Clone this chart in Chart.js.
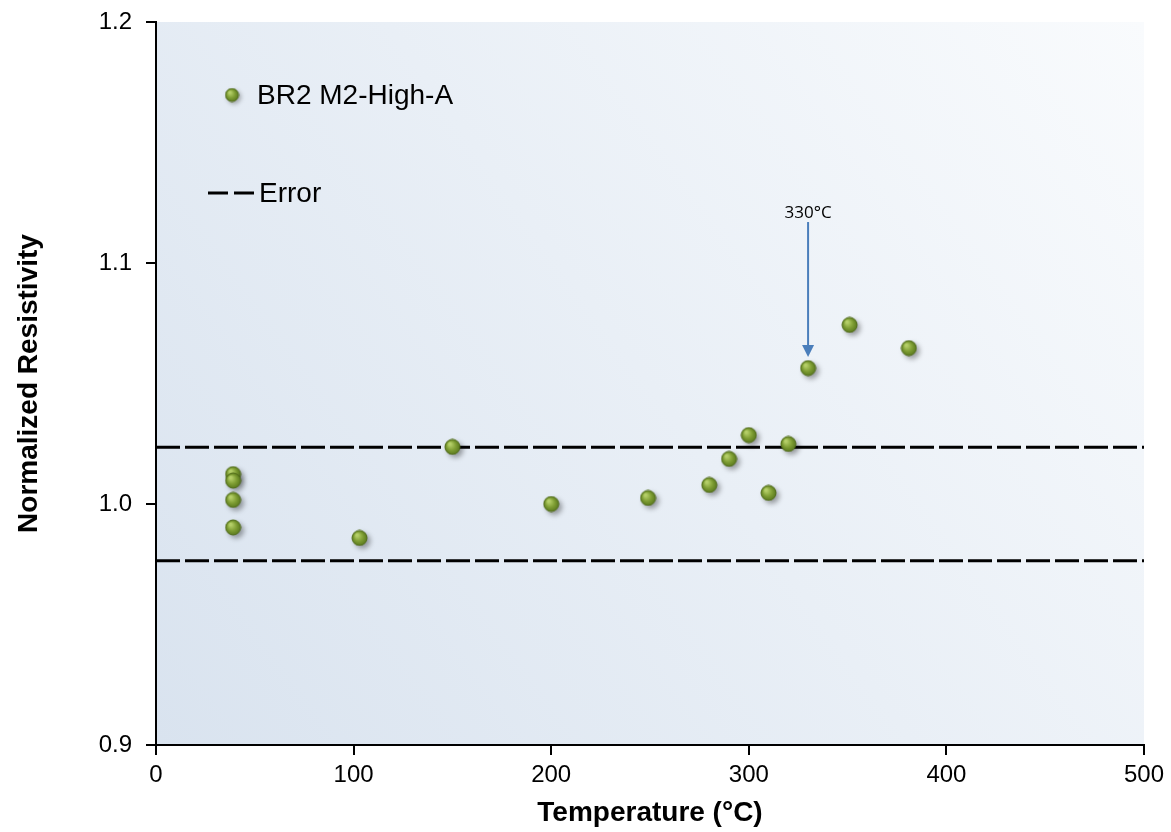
<!DOCTYPE html>
<html>
<head>
<meta charset="utf-8">
<script src="https://cdn.jsdelivr.net/npm/chart.js@4.4.1/dist/chart.umd.min.js"></script>
<style>
    html, body { margin: 0; padding: 0; background: #fff; }
    #wrap { width: 1171px; height: 832px; }
</style>
</head>
<body>
<div id="wrap"><canvas id="chart" width="1171" height="832"></canvas></div>
<script>
// ===============================
// DATA
// ===============================
const seriesName = "BR2 M2-High-A";
const tempValues = [39, 39, 39, 39, 103, 150, 200, 249, 280, 290, 300, 310, 320, 330, 351, 381];
const resValues = [1.0124, 1.0097, 1.0017, 0.9903, 0.9859, 1.0237, 1.0000, 1.0025, 1.0079, 1.0187, 1.0286, 1.0046, 1.0249, 1.0564, 1.0743, 1.0647];
const errorUpper = [1.0235, 1.0235];
const errorLower = [0.9765, 0.9765];
const errorX = [0, 500];
const xTicks = [0, 100, 200, 300, 400, 500];
const yTicks = [0.9, 1.0, 1.1, 1.2];
const arrowNote = { label: "330°C", x: 330, yFrom: 1.117, yTo: 1.061 };

// ===============================
// POINT MARKER (kleine groene bol)
// ===============================
function makeBall(r) {
    const c = document.createElement("canvas");
    c.width = r * 2 + 2;
    c.height = r * 2 + 2;
    const g = c.getContext("2d");
    const cx = r + 1, cy = r + 1;
    const grad = g.createRadialGradient(cx - r * 0.35, cy - r * 0.4, r * 0.15, cx, cy, r);
    grad.addColorStop(0, "#b5cf68");
    grad.addColorStop(0.55, "#7f9e34");
    grad.addColorStop(1, "#5b7a1e");
    g.beginPath();
    g.arc(cx, cy, r, 0, Math.PI * 2);
    g.fillStyle = grad;
    g.fill();
    g.lineWidth = 1;
    g.strokeStyle = "#4f6b18";
    g.stroke();
    return c;
}
const ball = makeBall(7.5);
const legendBall = makeBall(6.5);

// ===============================
// PLUGINS
// ===============================
const bgPlugin = {
    id: "bgGradient",
    beforeDraw(chart) {
        const { ctx, chartArea: a } = chart;
        const grad = ctx.createLinearGradient(a.left, a.bottom, a.right, a.top);
        grad.addColorStop(0, "#d9e3ef");
        grad.addColorStop(1, "#f9fbfd");
        ctx.save();
        ctx.fillStyle = grad;
        ctx.fillRect(a.left, a.top, a.right - a.left, a.bottom - a.top);
        ctx.restore();
    }
};

const shadowPlugin = {
    id: "pointShadow",
    beforeDatasetDraw(chart, args) {
        if (args.index !== 0) return;
        const ctx = chart.ctx;
        ctx.save();
        ctx.shadowColor = "rgba(0,0,0,0.35)";
        ctx.shadowBlur = 5;
        ctx.shadowOffsetX = 3;
        ctx.shadowOffsetY = 3;
    },
    afterDatasetDraw(chart, args) {
        if (args.index !== 0) return;
        chart.ctx.restore();
    }
};

const overlayPlugin = {
    id: "overlay",
    afterDatasetsDraw(chart) {
        const { ctx, scales } = chart;
        const xs = scales.x, ys = scales.y;

        // pijl met label 330°C
        const ax = xs.getPixelForValue(arrowNote.x);
        const ay1 = ys.getPixelForValue(arrowNote.yFrom);
        const ay2 = ys.getPixelForValue(arrowNote.yTo);
        ctx.save();
        ctx.strokeStyle = "#4a7ebb";
        ctx.fillStyle = "#4a7ebb";
        ctx.lineWidth = 2;
        ctx.beginPath();
        ctx.moveTo(ax, ay1);
        ctx.lineTo(ax, ay2 - 10);
        ctx.stroke();
        ctx.beginPath();
        ctx.moveTo(ax - 6, ay2 - 12);
        ctx.lineTo(ax + 6, ay2 - 12);
        ctx.lineTo(ax, ay2);
        ctx.closePath();
        ctx.fill();
        ctx.fillStyle = "#000";
        ctx.font = "17px 'Open Sans', sans-serif";
        ctx.textAlign = "center";
        ctx.textBaseline = "bottom";
        ctx.fillText(arrowNote.label, ax, ay1);

        // legenda
        ctx.save();
        ctx.shadowColor = "rgba(0,0,0,0.3)";
        ctx.shadowBlur = 4;
        ctx.shadowOffsetX = 2;
        ctx.shadowOffsetY = 2;
        ctx.drawImage(legendBall, 232 - 7.5, 95 - 7.5);
        ctx.restore();
        ctx.font = "28px 'Liberation Sans', Arial, sans-serif";
        ctx.textAlign = "left";
        ctx.textBaseline = "middle";
        ctx.fillStyle = "#000";
        ctx.fillText(seriesName, 257, 96);

        ctx.strokeStyle = "#000";
        ctx.lineWidth = 3;
        ctx.setLineDash([20, 6]);
        ctx.beginPath();
        ctx.moveTo(208, 193);
        ctx.lineTo(254, 193);
        ctx.stroke();
        ctx.setLineDash([]);
        ctx.fillText("Error", 259, 194);
        ctx.restore();
    }
};

// ===============================
// CHART
// ===============================
const points = tempValues.map((t, i) => ({ x: t, y: resValues[i] }));
const upper = errorX.map((x, i) => ({ x: x, y: errorUpper[i] }));
const lower = errorX.map((x, i) => ({ x: x, y: errorLower[i] }));

const tickFont = { family: "'Liberation Sans', Arial, sans-serif", size: 24 };
const titleFont = { family: "'Liberation Sans', Arial, sans-serif", size: 28, weight: "bold" };

new Chart(document.getElementById("chart").getContext("2d"), {
    type: "scatter",
    data: {
        datasets: [
            {
                label: seriesName,
                data: points,
                pointStyle: ball,
                pointRadius: 7.5,
                pointHoverRadius: 7.5
            },
            {
                label: "Error",
                data: upper,
                showLine: true,
                borderColor: "#000",
                borderWidth: 3,
                borderDash: [24, 5],
                pointRadius: 0
            },
            {
                label: "Error low",
                data: lower,
                showLine: true,
                borderColor: "#000",
                borderWidth: 3,
                borderDash: [24, 5],
                pointRadius: 0
            }
        ]
    },
    options: {
        responsive: false,
        animation: false,
        layout: { padding: { top: 22, right: 27, left: 0, bottom: 0 } },
        plugins: {
            legend: { display: false },
            tooltip: { enabled: false }
        },
        scales: {
            x: {
                type: "linear",
                min: 0,
                max: 500,
                afterBuildTicks: s => { s.ticks = xTicks.map(v => ({ value: v })); },
                afterFit: s => { s.height = 87; s.paddingLeft = 0; s.paddingRight = 0; },
                border: { color: "#000", width: 2 },
                grid: { drawOnChartArea: false, color: "#000", tickLength: 10, lineWidth: 2 },
                ticks: { color: "#000", font: tickFont, padding: 6 },
                title: { display: true, text: "Temperature (°C)", color: "#000", font: titleFont, padding: { top: 4, bottom: 2 } }
            },
            y: {
                type: "linear",
                min: 0.9,
                max: 1.2,
                afterBuildTicks: s => { s.ticks = yTicks.map(v => ({ value: v })); },
                afterFit: s => { s.width = 156; s.paddingTop = 0; s.paddingBottom = 0; },
                border: { color: "#000", width: 2 },
                grid: { drawOnChartArea: false, color: "#000", tickLength: 10, lineWidth: 2 },
                ticks: { color: "#000", font: tickFont, padding: 14, callback: v => Number(v).toFixed(1) },
                title: { display: true, text: "Normalized Resistivity", color: "#000", font: titleFont, padding: { top: 12, bottom: 0 } }
            }
        }
    },
    plugins: [bgPlugin, shadowPlugin, overlayPlugin]
});
</script>
</body>
</html>
